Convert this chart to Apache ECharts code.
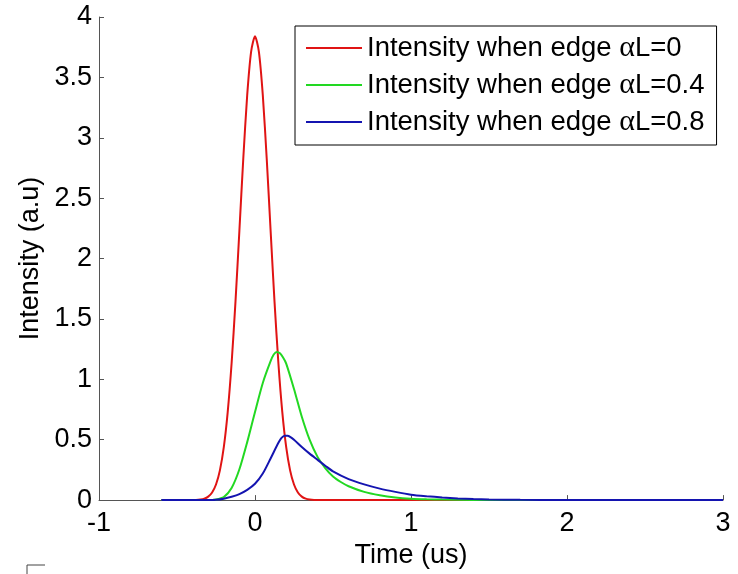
<!DOCTYPE html>
<html>
<head>
<meta charset="utf-8">
<script src="https://cdn.jsdelivr.net/npm/echarts@6/dist/echarts.min.js"></script>
<style>
html,body{margin:0;padding:0;background:#fff;}
#chart{width:738px;height:574px;}
</style>
</head>
<body>
<div id="chart"></div>
<script>
// ---- Data ----
const seriesNames = ['Intensity when edge αL=0', 'Intensity when edge αL=0.4', 'Intensity when edge αL=0.8'];

const redT = [-0.6,-0.4,-0.35,-0.325,-0.3,-0.275,-0.25,-0.225,-0.2,-0.175,-0.15,-0.125,-0.1,-0.075,-0.05,-0.025,0,0.025,0.05,0.075,0.1,0.125,0.15,0.175,0.2,0.225,0.25,0.275,0.3,0.325,0.35,0.4,1.1,3];
const redV = [0,0,0.005,0.012,0.029,0.063,0.129,0.246,0.438,0.729,1.133,1.645,2.232,2.830,3.353,3.712,3.84,3.712,3.353,2.830,2.232,1.645,1.133,0.729,0.438,0.246,0.129,0.063,0.029,0.012,0.005,0,0,0];

const greenT = [-0.6,-0.3,-0.25,-0.2,-0.15,-0.1,-0.05,0,0.05,0.1,0.12,0.14,0.16,0.18,0.2,0.25,0.3,0.35,0.4,0.45,0.5,0.55,0.6,0.7,0.8,0.9,1.0,1.1,1.2,1.4,1.6,3];
const greenV = [0,0,0.005,0.025,0.1,0.255,0.48,0.73,0.97,1.15,1.205,1.227,1.215,1.18,1.13,0.92,0.69,0.50,0.36,0.265,0.195,0.15,0.115,0.068,0.04,0.022,0.012,0.007,0.004,0.001,0,0];

const blueT = [-0.6,-0.3,-0.25,-0.2,-0.15,-0.1,-0.05,0,0.05,0.1,0.15,0.17,0.19,0.21,0.23,0.25,0.3,0.35,0.4,0.45,0.5,0.6,0.7,0.8,0.9,1.0,1.1,1.2,1.3,1.4,1.5,1.7,2.0,3];
const blueV = [0,0,0.003,0.012,0.028,0.05,0.085,0.135,0.22,0.345,0.475,0.515,0.533,0.532,0.52,0.50,0.44,0.385,0.335,0.285,0.238,0.174,0.13,0.095,0.068,0.045,0.032,0.022,0.014,0.009,0.006,0.002,0,0];

const xTicks = {min: -1, max: 3, interval: 1};
const yTicks = {min: 0, max: 4, interval: 0.5};

const colors = ['#e01414', '#22d822', '#1414b0'];

function pairs(t, v) { return t.map((x, i) => [x, v[i]]); }

const chart = echarts.init(document.getElementById('chart'), null, {renderer: 'canvas'});
const font = 'Liberation Sans, Arial, sans-serif';

chart.setOption({
  animation: false,
  backgroundColor: '#ffffff',
  textStyle: {fontFamily: font},
  grid: {left: 99, right: 15, top: 17, bottom: 68, containLabel: false},
  xAxis: {
    type: 'value', min: xTicks.min, max: xTicks.max, interval: xTicks.interval,
    name: 'Time (us)', nameLocation: 'middle', nameGap: 38,
    nameTextStyle: {fontSize: 27, color: '#000', fontFamily: font},
    axisLine: {onZero: false, lineStyle: {color: '#555', width: 1}},
    axisTick: {inside: true, length: 5, lineStyle: {color: '#555'}},
    axisLabel: {fontSize: 27, color: '#000', margin: 10, fontFamily: font},
    splitLine: {show: false}
  },
  yAxis: {
    type: 'value', min: yTicks.min, max: yTicks.max, interval: yTicks.interval,
    name: 'Intensity (a.u)', nameLocation: 'middle', nameGap: 52,
    nameTextStyle: {fontSize: 27, color: '#000', fontFamily: font},
    axisLine: {show: true, onZero: false, lineStyle: {color: '#555', width: 1}},
    axisTick: {show: true, inside: true, length: 5, lineStyle: {color: '#555'}},
    axisLabel: {fontSize: 27, color: '#000', margin: 7, fontFamily: font},
    splitLine: {show: false}
  },
  legend: {
    orient: 'vertical', left: 295, top: 26,
    padding: [7, 12, 8, 11],
    borderColor: '#000', borderWidth: 1, backgroundColor: '#fff',
    itemWidth: 56, itemHeight: 2, itemGap: 7, icon: 'rect',
    textStyle: {fontSize: 27.5, color: '#000', lineHeight: 30, fontFamily: font,
      rich: {a: {fontFamily: 'Liberation Serif, serif', fontSize: 30, color: '#000', lineHeight: 30}}},
    formatter: name => name.replace('α', '{a|α}'),
    data: seriesNames
  },
  series: [
    {name: seriesNames[0], type: 'line', data: pairs(redT, redV), showSymbol: false, smooth: 0.25, lineStyle: {color: colors[0], width: 2}, itemStyle: {color: colors[0]}},
    {name: seriesNames[1], type: 'line', data: pairs(greenT, greenV), showSymbol: false, smooth: 0.25, lineStyle: {color: colors[1], width: 2}, itemStyle: {color: colors[1]}},
    {name: seriesNames[2], type: 'line', data: pairs(blueT, blueV), showSymbol: false, smooth: 0.25, lineStyle: {color: colors[2], width: 2}, itemStyle: {color: colors[2]}}
  ],
  graphic: [
    {type: 'polyline', shape: {points: [[27, 574], [27, 565], [45, 565]]}, style: {stroke: '#444', lineWidth: 1, fill: null}}
  ]
});
</script>
</body>
</html>
